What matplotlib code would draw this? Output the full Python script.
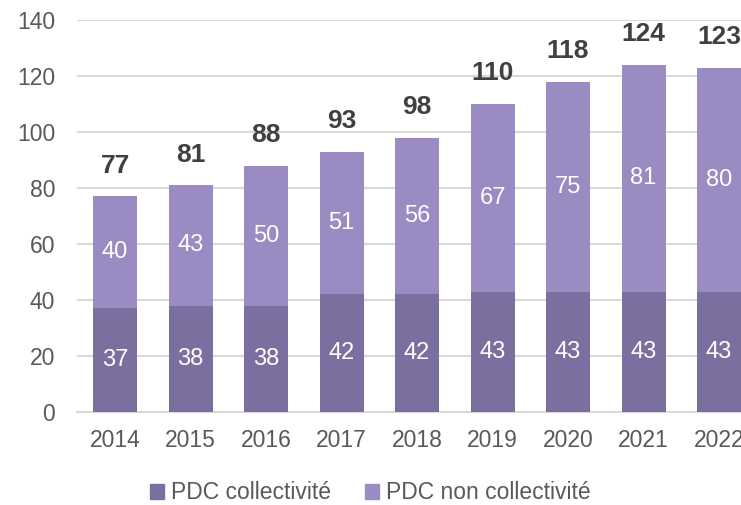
import numpy as np
import matplotlib
matplotlib.use("Agg")
import matplotlib.pyplot as plt
from matplotlib.patches import Patch

plt.rcParams['font.family'] = ['Liberation Sans', 'DejaVu Sans']

years = ['2014', '2015', '2016', '2017', '2018', '2019', '2020', '2021', '2022']
collectivite = [37, 38, 38, 42, 42, 43, 43, 43, 43]
non_collectivite = [40, 43, 50, 51, 56, 67, 75, 81, 80]
totals = [77, 81, 88, 93, 98, 110, 118, 124, 123]

c_dark = '#7A6F9F'
c_light = '#9A8BC2'
grid_c = '#D9D9D9'
txt_c = '#595959'

fig = plt.figure(figsize=(7.41, 5.05), dpi=100)
ax = fig.add_axes([77.3/741, 93/505, 679.5/741, 392/505])

x = np.arange(len(years))
w = 0.583
b1 = ax.bar(x, collectivite, w, color=c_dark, zorder=3)
b2 = ax.bar(x, non_collectivite, w, bottom=collectivite, color=c_light, zorder=3)

for i in range(len(years)):
    ax.text(x[i], collectivite[i] / 2, str(collectivite[i]), ha='center', va='center',
            color='white', fontsize=17, zorder=4)
    ax.text(x[i], collectivite[i] + non_collectivite[i] / 2, str(non_collectivite[i]),
            ha='center', va='center', color='white', fontsize=17, zorder=4)
    ax.annotate(str(totals[i]), (x[i], totals[i]), xytext=(0, 17), textcoords='offset points',
                ha='center', va='baseline', fontsize=19, fontweight='bold', color='#404040',
                annotation_clip=False)

ax.set_xlim(-0.5, len(years) - 0.5)
ax.set_ylim(0, 140)
ax.set_yticks(range(0, 141, 20))
ax.set_xticks(x)
ax.set_xticklabels(years)
ax.yaxis.grid(True, color=grid_c, lw=1.5, zorder=0)
for s in ['top', 'right', 'left']:
    ax.spines[s].set_visible(False)
ax.spines['bottom'].set_color(grid_c)
ax.spines['bottom'].set_linewidth(1.5)
ax.tick_params(axis='both', length=0, labelsize=16.5, colors=txt_c)
ax.tick_params(axis='x', pad=12)
ax.tick_params(axis='y', pad=16)

handles = [Patch(color=c_dark, label='PDC collectivité'),
           Patch(color=c_light, label='PDC non collectivité')]
fig.legend(handles=handles, loc='center', bbox_to_anchor=(0.5, 0.024), ncol=2,
           frameon=False, fontsize=16.5, handlelength=0.6, handleheight=0.6,
           handletextpad=0.3, columnspacing=1.5, labelcolor=txt_c)

fig.savefig('out.png', dpi=100)
